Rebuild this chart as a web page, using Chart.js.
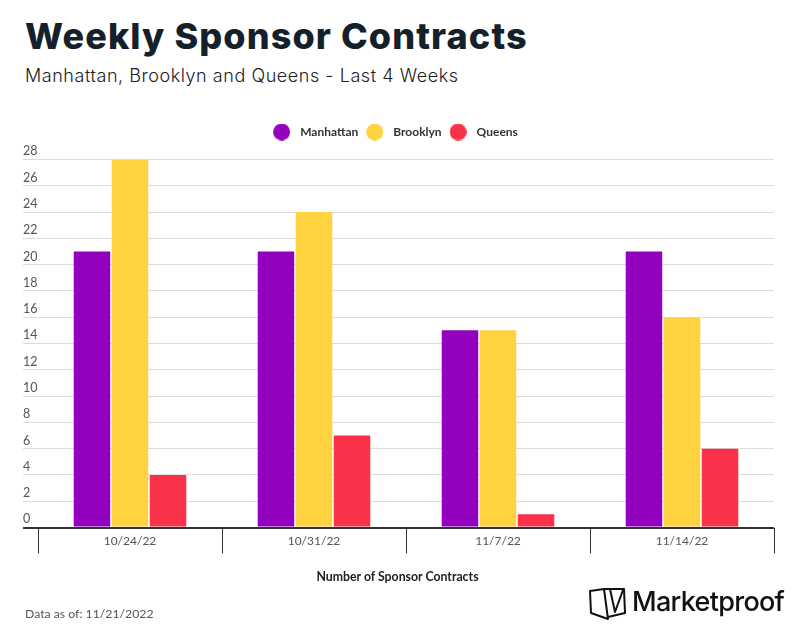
<!DOCTYPE html>
<html lang="en">
  <head>
    <meta charset="UTF-8" />
    <title>Weekly Sponsor Contracts</title>
    <script src="https://cdn.jsdelivr.net/npm/chart.js"></script>
    <style>
      body { margin: 0; background: #fff; width: 800px; height: 640px; position: relative; overflow: hidden; }
      canvas { position: absolute; left: 0; top: 0; }
      .txt { position: absolute; white-space: nowrap; }
      #title { left: 25px; top: 14px; font: 800 36px "Inter", sans-serif; color: #14212b; letter-spacing: 1.1px; }
      #subtitle { left: 25px; top: 65px; font: 300 18px "Inter", sans-serif; color: #222; letter-spacing: 0.55px; }
      #axisLabel { left: 397.5px; top: 569px; transform: translateX(-50%); font: 700 12.3px "Lato", sans-serif; color: #222; }
      #note { left: 25px; top: 606px; font: 400 12.25px "Lato", sans-serif; color: #555; }
      #brand { left: 632px; top: 585px; font: 500 27px "Inter", sans-serif; color: #111; letter-spacing: -0.7px; }
      #logo { position: absolute; left: 588px; top: 586px; }
    </style>
  </head>
  <body>
    <div class="txt" id="title">Weekly Sponsor Contracts</div>
    <div class="txt" id="subtitle">Manhattan, Brooklyn and Queens - Last 4 Weeks</div>
    <canvas id="sponsorChart" width="800" height="640"></canvas>
    <div class="txt" id="axisLabel">Number of Sponsor Contracts</div>
    <div class="txt" id="note">Data as of: 11/21/2022</div>
    <svg id="logo" width="40" height="36" viewBox="0 0 40 36" fill="none" stroke="#111" stroke-width="2" stroke-linejoin="round">
      <path d="M2 5 L16 3 L20 33 L3 27 Z" />
      <path d="M16 3 L36 3 L37 27 L20 31" />
      <path d="M22 3 L27 26 L35 4" />
    </svg>
    <div class="txt" id="brand">Marketproof</div>

    <script>
      const weeks = ["10/24/22", "10/31/22", "11/7/22", "11/14/22"];
      const manhattan = [21, 21, 15, 21];
      const brooklyn = [28, 24, 15, 16];
      const queens = [4, 7, 1, 6];

      // legend dots as small canvases so the box can be wider than the dot
      function makeDot(color) {
        const dot = document.createElement("canvas");
        dot.width = 17;
        dot.height = 17;
        const d = dot.getContext("2d");
        d.fillStyle = color;
        d.arc(8.5, 8.5, 8.5, 0, Math.PI * 2);
        d.fill();
        return dot;
      }

      const legendTweak = {
        id: "legendTweak",
        beforeInit(chart) {
          const fit = chart.legend.fit;
          chart.legend.fit = function () {
            fit.call(this);
            this.height += 11.5;
          };
        },
        afterLayout(chart) {
          chart.legend.right -= 10;
        },
      };

      const ctx = document.getElementById("sponsorChart").getContext("2d");

      new Chart(ctx, {
        type: "bar",
        plugins: [legendTweak],
        data: {
          labels: weeks,
          datasets: [
            { label: "Manhattan", data: manhattan, backgroundColor: "#9300be" },
            { label: "Brooklyn", data: brooklyn, backgroundColor: "#ffd23f" },
            { label: "Queens", data: queens, backgroundColor: "#f93149" },
          ],
        },
        options: {
          responsive: false,
          animation: false,
          categoryPercentage: 0.62,
          barPercentage: 0.96,
          layout: { padding: { left: 23, right: 26, top: 122, bottom: 55 } },
          plugins: {
            tooltip: { enabled: false },
            legend: {
              position: "top",
              labels: {
                usePointStyle: true,
                pointStyleWidth: 25,
                boxHeight: 12,
                padding: 4,
                color: "#333",
                font: { family: "Lato", size: 12, weight: "700" },
                generateLabels: (chart) =>
                  chart.data.datasets.map((ds, i) => ({
                    text: ds.label,
                    fontColor: "#333",
                    pointStyle: makeDot(ds.backgroundColor),
                    datasetIndex: i,
                    lineWidth: 0,
                  })),
              },
            },
          },
          scales: {
            x: {
              grid: {
                drawOnChartArea: false,
                drawTicks: true,
                tickLength: 26,
                color: "#333",
                lineWidth: 1,
              },
              border: { display: false },
              ticks: { color: "#555", padding: -20, font: { family: "Lato", size: 12 } },
              afterFit: (scale) => { scale.height = 57.5; },
            },
            y: {
              min: 0,
              max: 28,
              grid: {
                tickLength: 15,
                color: (c) => (c.tick.value === 0 ? "#333" : "#dcdcdc"),
                lineWidth: (c) => (c.tick.value === 0 ? 2 : 1),
              },
              border: { display: false },
              ticks: {
                stepSize: 2,
                autoSkip: false,
                color: "#555",
                crossAlign: "far",
                font: { family: "Lato", size: 12.5, lineHeight: 1.3 },
                // second empty line lifts the number above its grid line
                callback: (v) => [String(v), ""],
              },
              afterFit: (scale) => { scale.width = 15; },
            },
          },
        },
      });
    </script>
  </body>
</html>
